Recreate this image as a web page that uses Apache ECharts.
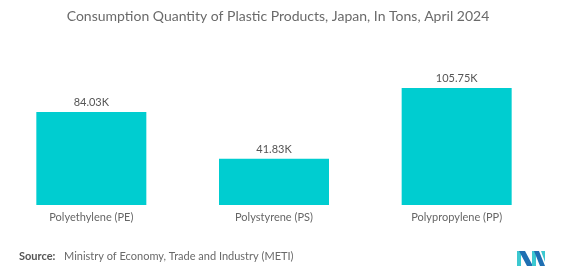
<!DOCTYPE html>
<html>
<head>
<meta charset="utf-8">
<script src="https://cdn.jsdelivr.net/npm/echarts@6/dist/echarts.min.js"></script>
<style>html,body{margin:0;padding:0;background:#fff;}#c{width:576px;height:277px;}</style>
</head>
<body>
<div id="c"></div>
<script>
const categories = ['Polyethylene (PE)', 'Polystyrene (PS)', 'Polypropylene (PP)'];
const values = [84.03, 41.83, 105.75];
const valueLabels = ['84.03K', '41.83K', '105.75K'];

const chart = echarts.init(document.getElementById('c'), null, {renderer: 'canvas'});
const FONT = 'Lato, "Noto Sans", sans-serif';
chart.setOption({
  animation: false,
  backgroundColor: '#fff',
  title: {
    text: 'Consumption Quantity of Plastic Products, Japan, In Tons, April 2024',
    left: 273, top: 4, textAlign: 'center',
    textStyle: {fontFamily: FONT, fontSize: 14, fontWeight: 'normal', color: '#6a6a6a'}
  },
  grid: {left: 0, right: 28, top: 88, bottom: 72},
  xAxis: {
    type: 'category', data: categories,
    axisLine: {show: false}, axisTick: {show: false},
    axisLabel: {fontFamily: FONT, fontSize: 11, color: '#666', margin: 7}
  },
  yAxis: {type: 'value', min: 0, max: 'dataMax', show: false, splitLine: {show: false}},
  series: [{
    type: 'bar', data: values, barWidth: 110,
    itemStyle: {color: '#00cdd0'},
    label: {
      show: true, position: 'top', distance: 4,
      fontFamily: FONT, fontSize: 11, color: '#555',
      formatter: p => valueLabels[p.dataIndex]
    }
  }],
  graphic: [
    {type: 'text', left: 19, top: 251, style: {text: 'Source:', font: 'bold 11px ' + FONT, fill: '#555'}},
    {type: 'text', left: 64, top: 251, style: {text: 'Ministry of Economy, Trade and Industry (METI)', font: '11px ' + FONT, fill: '#6a6a6a'}},
    {type: 'polygon', shape: {points: [[517,251],[521,251],[521,266],[517,266]]}, style: {fill: '#3cc8d0'}},
    {type: 'polygon', shape: {points: [[519,251],[525,251],[533,266],[527,266]]}, style: {fill: '#1f6fb2'}},
    {type: 'polygon', shape: {points: [[532,251],[536,251],[536,266],[532,266]]}, style: {fill: '#3cc8d0'}},
    {type: 'polygon', shape: {points: [[534,251],[539,251],[545,266],[540,266]]}, style: {fill: '#1f6fb2'}},
    {type: 'polygon', shape: {points: [[541,251],[545,251],[545,262]]}, style: {fill: '#3cc8d0'}}
  ]
});
</script>
</body>
</html>
